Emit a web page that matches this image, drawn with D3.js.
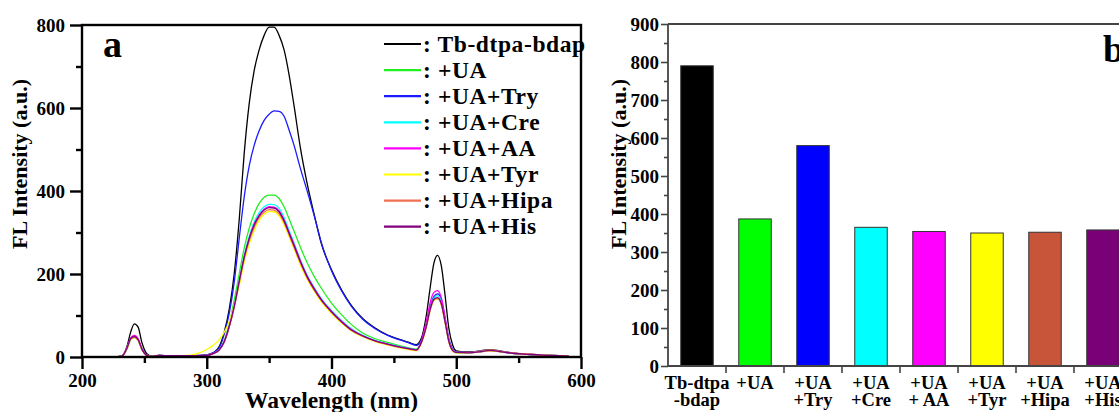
<!DOCTYPE html>
<html><head><meta charset="utf-8">
<script src="https://cdn.jsdelivr.net/npm/d3@7"></script>
<style>
html,body{margin:0;padding:0;background:#fff;}
svg{display:block;font-family:"Liberation Serif","Times New Roman",serif;font-weight:bold;}
</style></head><body>
<svg id="chart" width="1119" height="412"></svg>
<script>
// ---------- Panel a: emission spectra ----------
const wavelengths = [210,225,232,236,239,242,245,248,252,256,262,270,280,290,300,305,310,314,318,322,326,330,334,338,342,346,350,354,358,362,366,370,375,380,386,392,400,408,416,425,435,445,455,462,468,472,476,479,482,485,488,491,494,497,500,510,520,527,535,545,560,575,590];
const specTb   = [0,0,3,25,60,80,72,35,8,2, 4,3,3,3,5,10,25,60,115,200, 330,490,610,690,740,775,795,795,775,740, 680,605,505,425,345,272,210,162,124,93, 70,53,42,35,30,45,100,165,225,245, 220,150,70,30,15,12,15,18,15,10, 6,4,2];
const specUA   = [0,0,2,20,42,47,40,18,4,1, 4,3,3,3,4,8,18,40,80,137, 200,262,310,345,370,385,390,390,382,362, 333,303,265,230,195,165,130,102,78,58, 44,35,27,22,19,35,75,115,138,141, 128,85,38,16,10,10,13,15,13,9, 6,4,2];
const specTry  = [0,0,3,22,45,50,42,20,5,1, 4,3,3,3,5,10,22,55,105,180, 285,385,460,510,545,570,585,593,592,580, 547,510,455,405,342,274,208,160,122,91, 68,52,41,34,28,40,80,120,145,152, 140,95,45,20,12,11,14,16,14,9, 6,4,2];
const specCre  = [0,0,2,20,42,48,41,18,4,1, 4,3,3,3,4,8,18,38,75,125, 185,245,290,325,348,362,368,367,358,336, 305,275,235,200,168,140,112,88,68,52, 40,32,25,21,18,36,75,115,142,148, 133,88,40,17,11,10,13,16,13,9, 6,4,2];
const specAA   = [0,0,2,22,46,52,44,20,4,1, 4,3,3,3,4,8,17,36,72,120, 180,240,285,320,342,356,362,361,352,330, 300,271,232,198,166,138,110,86,66,51, 39,31,24,20,17,38,85,130,155,160, 143,95,42,17,11,10,13,15,13,9, 6,4,2];
const specTyr  = [0,0,2,20,42,47,40,18,4,1, 3,3,3,6,18,28,42,60,85,125, 172,228,272,305,330,344,351,350,340,318, 290,260,222,190,159,132,105,82,63,49, 37,29,22,18,15,33,72,112,136,140, 126,84,38,15,10,10,13,15,13,9, 6,4,2];
const specHipa = [0,0,2,20,43,48,41,18,4,1, 4,3,3,3,4,8,17,36,72,120, 178,236,280,312,336,349,355,354,345,324, 295,265,227,194,162,135,108,84,64,50, 38,30,23,19,16,34,72,112,137,141, 127,85,38,16,11,11,14,17,14,10, 7,4,2];
const specHis  = [0,0,2,21,44,49,42,19,4,1, 4,3,3,3,4,8,17,37,74,122, 182,240,285,318,340,354,360,359,350,328, 298,268,230,196,164,137,109,85,65,51, 39,31,24,20,17,35,74,114,139,143, 129,86,39,16,11,10,13,16,13,9, 6,4,2];
const legendLabels = [": Tb-dtpa-bdap", ": +UA", ": +UA+Try", ": +UA+Cre", ": +UA+AA", ": +UA+Tyr", ": +UA+Hipa", ": +UA+His"];
const lineColors = ["#000000", "#22ee22", "#1a1aff", "#00ffff", "#ff00ff", "#ffff00", "#f07050", "#800080"];
const xTicksA = [200, 300, 400, 500, 600];
const xMinorA = [250, 350, 450, 550];
const yTicksA = [0, 200, 400, 600, 800];
const yMinorA = [100, 300, 500, 700];

// ---------- Panel b: bar chart ----------
const barLine1 = ["Tb-dtpa", "+UA", "+UA", "+UA", "+UA", "+UA", "+UA", "+UA"];
const barLine2 = ["-bdap", "", "+Try", "+Cre", "+ AA", "+Tyr", "+Hipa", "+His"];
const barValues = [790, 387, 580, 365, 354, 350, 352, 358];
const barColors = ["#000000", "#00ff00", "#0000ff", "#00ffff", "#ff00ff", "#ffff00", "#c8553a", "#7a0078"];
const yTicksB = [0, 100, 200, 300, 400, 500, 600, 700, 800, 900];
const yMinorB = [50, 150, 250, 350, 450, 550, 650, 750, 850];

const spectra = [specTb, specUA, specTry, specCre, specAA, specTyr, specHipa, specHis];
const svg = d3.select("#chart");

// ===== Panel a =====
const xA = d3.scaleLinear().domain([200, 600]).range([82, 581]);
const yA = d3.scaleLinear().domain([0, 800]).range([357, 25]);
const gA = svg.append("g");

const line = d3.line().x(d => xA(d[0])).y(d => yA(d[1])).curve(d3.curveMonotoneX);
spectra.forEach((s, i) => {
  gA.append("path")
    .datum(wavelengths.map((w, k) => [w, s[k]]))
    .attr("d", line).attr("fill", "none")
    .attr("stroke", lineColors[i]).attr("stroke-width", 1.3);
});

// frame
gA.append("rect").attr("x", xA(200)).attr("y", yA(800))
  .attr("width", xA(600) - xA(200)).attr("height", yA(0) - yA(800))
  .attr("fill", "none").attr("stroke", "#000").attr("stroke-width", 2.4);

// axes
const axXA = gA.append("g").attr("transform", `translate(0,${yA(0)})`)
  .call(d3.axisBottom(xA).tickValues(xTicksA).tickSize(12).tickPadding(5).tickFormat(d3.format("d")));
const axXAm = gA.append("g").attr("transform", `translate(0,${yA(0)})`)
  .call(d3.axisBottom(xA).tickValues(xMinorA).tickSize(6).tickFormat(""));
const axYA = gA.append("g").attr("transform", `translate(${xA(200)},0)`)
  .call(d3.axisLeft(yA).tickValues(yTicksA).tickSize(12).tickPadding(5).tickFormat(d3.format("d")));
const axYAm = gA.append("g").attr("transform", `translate(${xA(200)},0)`)
  .call(d3.axisLeft(yA).tickValues(yMinorA).tickSize(6).tickFormat(""));
[axXA, axXAm, axYA, axYAm].forEach(a => {
  a.select(".domain").remove();
  a.selectAll(".tick line").attr("stroke", "#000").attr("stroke-width", 2.4);
  a.selectAll("text").attr("font-size", 19).attr("font-family", "Liberation Serif").attr("font-weight", "bold").attr("fill", "#000");
});

gA.append("text").attr("x", (xA(200) + xA(600)) / 2).attr("y", 408)
  .attr("text-anchor", "middle").attr("font-size", 23.5).text("Wavelength (nm)");
gA.append("text").attr("transform", "translate(27,164) rotate(-90)")
  .attr("text-anchor", "middle").attr("font-size", 22).text("FL Intensity (a.u.)");
gA.append("text").attr("x", 103).attr("y", 57).attr("font-size", 38).text("a");

// legend
const leg = gA.append("g");
legendLabels.forEach((t, i) => {
  const yy = 44 + i * 26.1;
  leg.append("line").attr("x1", 384).attr("x2", 421).attr("y1", yy).attr("y2", yy)
    .attr("stroke", lineColors[i]).attr("stroke-width", 2.2);
  leg.append("text").attr("x", 423).attr("y", yy + 7.5).attr("font-size", 23.5)
    .attr("letter-spacing", 0.6).text(t);
});

// ===== Panel b =====
const xB = d3.scaleBand().domain(d3.range(barValues.length)).range([668, 1132])
  .paddingInner(0.44).paddingOuter(0.22);
const yB = d3.scaleLinear().domain([0, 900]).range([366, 24]);
const gB = svg.append("g");

gB.selectAll("rect.bar").data(barValues).join("rect").attr("class", "bar")
  .attr("x", (d, i) => xB(i)).attr("width", xB.bandwidth())
  .attr("y", d => yB(d)).attr("height", d => yB(0) - yB(d))
  .attr("fill", (d, i) => barColors[i]).attr("stroke", "#333").attr("stroke-width", 1);

const axYB = gB.append("g").attr("transform", `translate(668,0)`)
  .call(d3.axisLeft(yB).tickValues(yTicksB).tickSize(7).tickPadding(2).tickFormat(d3.format("d")));
const axYBm = gB.append("g").attr("transform", `translate(668,0)`)
  .call(d3.axisLeft(yB).tickValues(yMinorB).tickSize(4).tickFormat(""));
[axYB, axYBm].forEach(a => {
  a.select(".domain").remove();
  a.selectAll(".tick line").attr("stroke", "#444").attr("stroke-width", 1.6);
  a.selectAll("text").attr("font-size", 19).attr("font-family", "Liberation Serif").attr("font-weight", "bold").attr("fill", "#000");
});
// category boundary ticks
const boundaries = d3.range(1, barValues.length).map(i => xB(0) - xB.step() * xB.paddingOuter() + i * xB.step());
gB.selectAll("line.cb").data(boundaries).join("line").attr("class", "cb")
  .attr("x1", d => d).attr("x2", d => d).attr("y1", yB(0)).attr("y2", yB(0) + 7)
  .attr("stroke", "#444").attr("stroke-width", 1.6);
// axes lines
gB.append("line").attr("x1", 668).attr("x2", 1119).attr("y1", yB(0)).attr("y2", yB(0)).attr("stroke", "#444").attr("stroke-width", 1.8);
gB.append("line").attr("x1", 668).attr("x2", 1119).attr("y1", yB(900)).attr("y2", yB(900)).attr("stroke", "#444").attr("stroke-width", 1.8);
gB.append("line").attr("x1", 668).attr("x2", 668).attr("y1", yB(900)).attr("y2", yB(0)).attr("stroke", "#444").attr("stroke-width", 1.8);

// category labels
barLine1.forEach((t, i) => {
  const cx = xB(i) + xB.bandwidth() / 2;
  gB.append("text").attr("x", cx).attr("y", 389).attr("text-anchor", "middle").attr("font-size", 18.5).text(t);
  if (barLine2[i]) gB.append("text").attr("x", cx).attr("y", 406).attr("text-anchor", "middle").attr("font-size", 18.5).text(barLine2[i]);
});

gB.append("text").attr("transform", "translate(626,164) rotate(-90)")
  .attr("text-anchor", "middle").attr("font-size", 22).text("FL Intensity (a.u.)");
gB.append("text").attr("x", 1103).attr("y", 62).attr("font-size", 38).text("b");
</script>
</body></html>
